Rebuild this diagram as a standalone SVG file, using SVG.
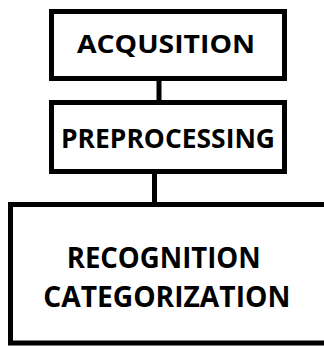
<svg xmlns="http://www.w3.org/2000/svg" width="324" height="347" viewBox="0 0 324 347">
<style>
.box{fill:#fff;stroke:#000;stroke-width:5}
.lnk{stroke:#000;stroke-width:5;fill:none}
.t{font-family:"Open Sans","Liberation Sans",sans-serif;font-weight:700;fill:#000}
</style>
<rect width="324" height="347" fill="#fff"/>
<g id="connectors">
<line class="lnk" x1="159" y1="79" x2="159" y2="102"/>
<line class="lnk" x1="154.5" y1="172" x2="154.5" y2="205"/>
</g>
<g id="acquisition">
<rect class="box" x="51.5" y="11.5" width="233" height="67"/>
<text class="t" x="77" y="53.3" font-size="25.6" textLength="178" lengthAdjust="spacingAndGlyphs">ACQUSITION</text>
</g>
<g id="preprocessing">
<rect class="box" x="51.5" y="102.5" width="233" height="69"/>
<text class="t" x="61" y="148.3" font-size="26.6" textLength="214" lengthAdjust="spacingAndGlyphs">PREPROCESSING</text>
</g>
<g id="recognition">
<rect class="box" x="10.5" y="204.5" width="330" height="138.5"/>
<text class="t" x="66.7" y="267.7" font-size="28" textLength="194" lengthAdjust="spacingAndGlyphs">RECOGNITION</text>
<text class="t" x="43.3" y="307" font-size="28" textLength="247" lengthAdjust="spacingAndGlyphs">CATEGORIZATION</text>
</g>
</svg>
